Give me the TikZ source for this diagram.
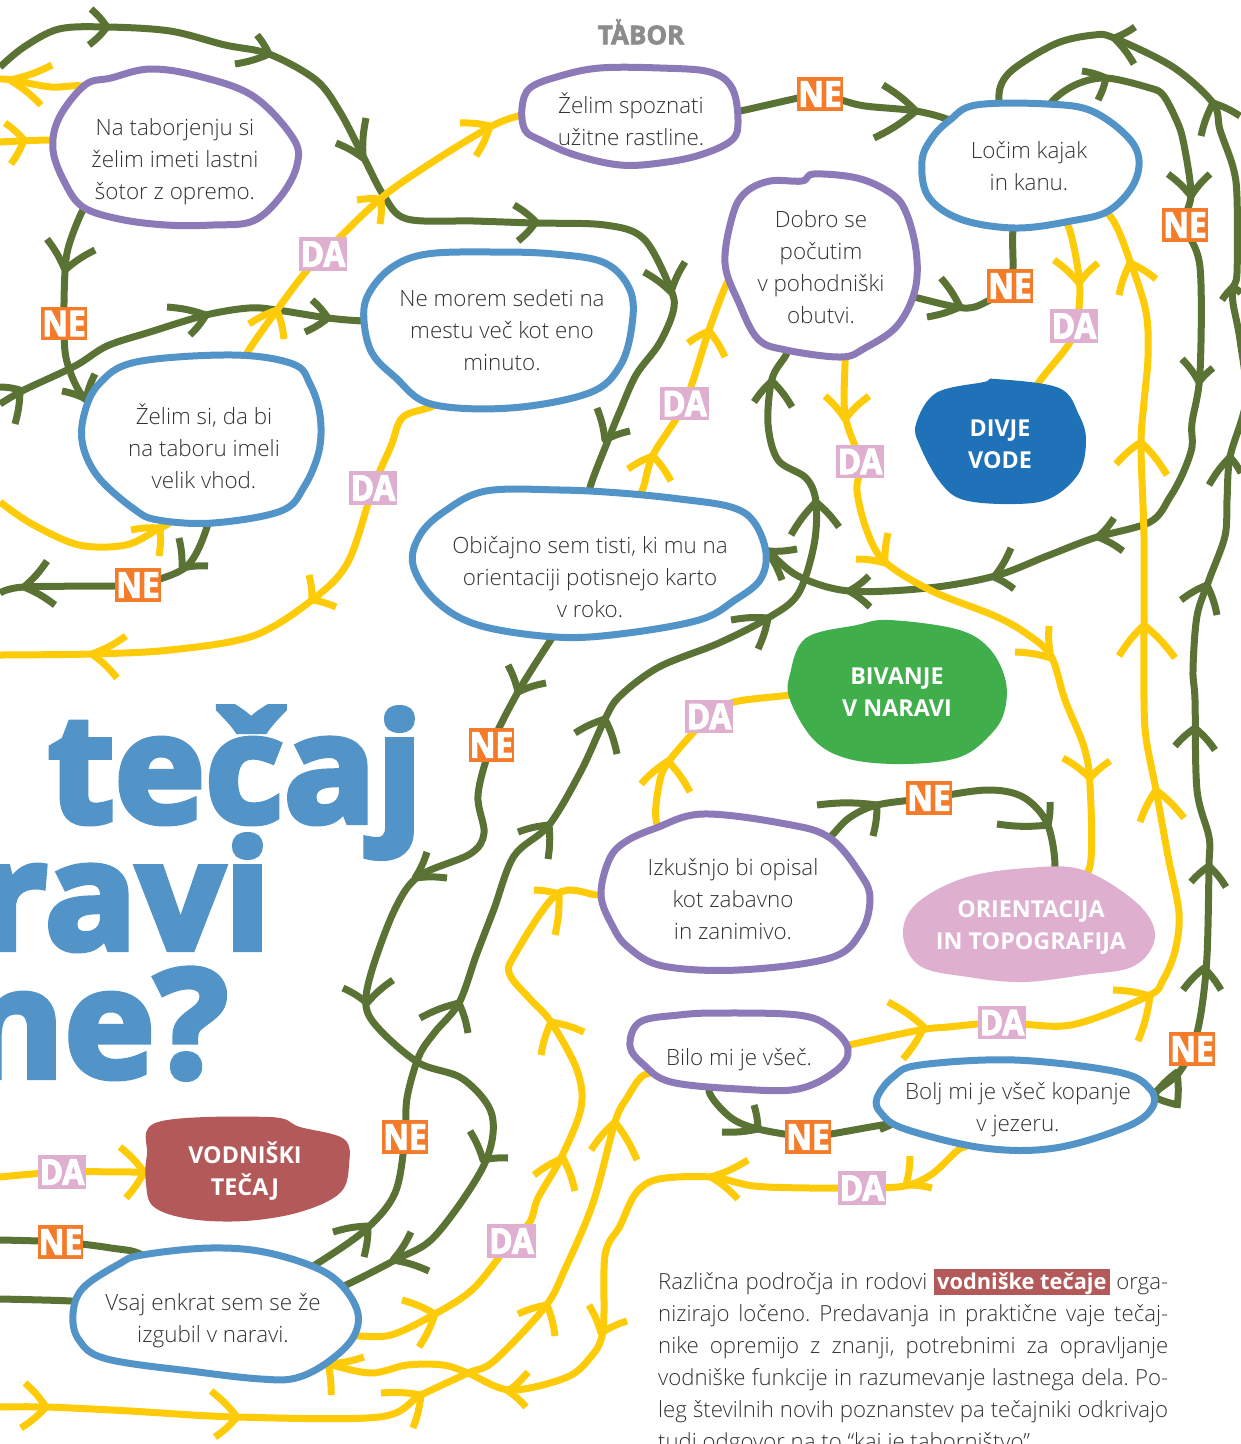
\documentclass[tikz,border=0pt]{standalone}
\usepackage{fontspec}
\usepackage{xcolor}
\setmainfont{Open Sans}[UprightFont=* Light,BoldFont=Open Sans Bold]
\newfontfamily\titlefont{Open Sans Bold}[FakeBold=4,FakeStretch=1.02]
\newfontfamily\heavyfont{Open Sans Bold}[FakeBold=3,FakeStretch=.9]
\newfontfamily\logofont{Open Sans Bold}[FakeBold=2.5]
\newfontfamily\boldfont{Open Sans Bold}
\usetikzlibrary{shapes.geometric}
\definecolor{cgreen}{HTML}{5A7335}
\definecolor{cyellow}{HTML}{FECB08}
\definecolor{cblue}{HTML}{5394C8}
\definecolor{cpurple}{HTML}{8C7AB8}
\definecolor{cdeep}{HTML}{1F71B8}
\definecolor{cgrass}{HTML}{3FAE4B}
\definecolor{cbrick}{HTML}{B35959}
\definecolor{cpink}{HTML}{DFAFD0}
\definecolor{corange}{HTML}{F47B2A}
\definecolor{ctext}{HTML}{333333}
\definecolor{clogo}{HTML}{8C8C8E}
\setlength{\fboxsep}{0pt}
\pgfdeclarelayer{lines}
\pgfdeclarelayer{blobs}
\pgfsetlayers{lines,blobs,main}
\tikzset{
  qtext/.style={shape=ellipse,inner sep=0pt,align=center,text=ctext,font=\fontsize{22.4}{32}\selectfont},
  rtext/.style={shape=ellipse,inner sep=0pt,align=center,text=white,font=\boldfont\fontsize{23.3}{32}\selectfont},
  dalabel/.style={fill=cpink,minimum width=48.5pt,minimum height=33.5pt,inner sep=0pt,text=white,font=\heavyfont\fontsize{35}{35}\selectfont},
  nelabel/.style={fill=corange,minimum width=45.5pt,minimum height=33.5pt,inner sep=0pt,text=white,font=\heavyfont\fontsize{35}{35}\selectfont},
  gline/.style={draw=cgreen,line width=7pt,line join=round},
  yline/.style={draw=cyellow,line width=7pt,line join=round},
  bline/.style={draw=cblue,fill=white,line width=7pt,line join=round},
  pline/.style={draw=cpurple,fill=white,line width=7pt,line join=round},
  titletext/.style={inner sep=0pt,anchor=base east,text=cblue,font=\titlefont\fontsize{150}{150}\selectfont},
  para/.style={inner sep=0pt,anchor=north west,align=left,text=ctext,font=\frenchspacing\fontsize{22.2}{32}\selectfont}
}
\newcommand{\conn}[2]{\draw[#1] plot[smooth,tension=.55] coordinates {#2};}
\newcommand{\ah}[4]{\draw[#1] #3 to[bend left=7] #2 to[bend left=7] #4;}
\newcommand{\blob}[2]{\draw[#1] plot[smooth cycle,tension=.6] coordinates {#2};}
\newcommand{\fullline}[1]{\makebox[510pt][s]{#1}}
\begin{document}
\begin{tikzpicture}[x=1pt,y=-1pt]
\useasboundingbox (0,0) rectangle (1241,1444);
% question nodes
\node[qtext] (tab) at (175,162) {Na taborjenju si\\želim imeti lastni\\šotor z opremo.};
\node[qtext] (rast) at (631,119) {Želim spoznati\\užitne rastline.};
\node[qtext] (obut) at (821,267) {Dobro se\\počutim\\v pohodniški\\obutvi.};
\node[qtext] (kajak) at (1029,166) {Ločim kajak\\in kanu.};
\node[qtext] (sedeti) at (502,330) {Ne morem sedeti na\\mestu več kot eno\\minuto.};
\node[qtext] (vhod) at (204,446) {Želim si, da bi\\na taboru imeli\\velik vhod.};
\node[qtext] (karta) at (590,577) {Običajno sem tisti, ki mu na\\orientaciji potisnejo karto\\v roko.};
\node[qtext] (zabava) at (733,899) {Izkušnjo bi opisal\\kot zabavno\\in zanimivo.};
\node[qtext] (bilo) at (739,1060) {Bilo mi je všeč.};
\node[qtext] (jezero) at (1018,1110) {Bolj mi je všeč kopanje\\v jezeru.};
\node[qtext] (izgubil) at (213,1321) {Vsaj enkrat sem se že\\izgubil v naravi.};
% result nodes
\node[rtext] (divje) at (1000,444) {DIVJE\\VODE};
\node[rtext] (bivanje) at (897,692) {BIVANJE\\V NARAVI};
\node[rtext] (vodn) at (245,1171) {VODNIŠKI\\TEČAJ};
\node[rtext] (orient) at (1031,927) {ORIENTACIJA\\IN TOPOGRAFIJA};
% labels
\node[dalabel] (da1) at (323,254) {DA};
\node[dalabel] (da2) at (373,488) {DA};
\node[dalabel] (da3) at (684.5,403.5) {DA};
\node[dalabel] (da4) at (860,461.5) {DA};
\node[dalabel] (da5) at (1074,326) {DA};
\node[dalabel] (da6) at (709,716.5) {DA};
\node[dalabel] (da7) at (1002,1022.5) {DA};
\node[dalabel] (da8) at (862,1188) {DA};
\node[dalabel] (da9) at (62,1172) {DA};
\node[dalabel] (da10) at (511.5,1241) {DA};
\node[nelabel] (ne1) at (64,323.5) {NE};
\node[nelabel] (ne2) at (138,585) {NE};
\node[nelabel] (ne3) at (820,94) {NE};
\node[nelabel] (ne4) at (1010,286) {NE};
\node[nelabel] (ne5) at (1185,225) {NE};
\node[nelabel] (ne6) at (491.5,745) {NE};
\node[nelabel] (ne7) at (929,798) {NE};
\node[nelabel] (ne8) at (405,1137) {NE};
\node[nelabel] (ne9) at (60.5,1242) {NE};
\node[nelabel] (ne10) at (808,1137) {NE};
\node[nelabel] (ne11) at (1192,1049) {NE};
% title
\node[titletext] (t1) at (423,822) {tečaj};
\node[titletext] (t2) at (271,949) {ravi};
\node[titletext] (t3) at (228,1077) {ne?};
% logo
\node[inner sep=0pt,text=clogo,font=\logofont\fontsize{26}{26}\selectfont] (logo) at (641,35) {TABOR};
\draw[clogo,line width=1.8pt] (616.5,19) -- (620.5,27) (620.5,19) -- (616.5,27);
% paragraph
\node[para] (par) at (658,1269) {\fullline{Različna področja in rodovi \colorbox{cbrick}{\hspace{3pt}\rule[-6pt]{0pt}{26pt}\color{white}\boldfont\fontsize{21.8}{24}\selectfont vodniške tečaje\hspace{3pt}} orga-}\\
\fullline{nizirajo ločeno. Predavanja in praktične vaje tečaj-}\\
\fullline{nike opremijo z znanji, potrebnimi za opravljanje}\\
\fullline{vodniške funkcije in razumevanje lastnega dela. Po-}\\
\fullline{leg številnih novih poznanstev pa tečajniki odkrivajo}\\
tudi odgovor na to “kaj je taborništvo”.};
\begin{pgfonlayer}{blobs}
\blob{pline}{(85,85)(111,78)(150,69)(198,76)(253,96)(293,138)(297,165)(281,196)(253,221)(213,225)(166,225)(119,219)(83,207)(65,183)(53,150)(59,118)}
\blob{pline}{(522,108)(530,88)(560,76)(600,68)(660,68)(710,72)(732,88)(738,120)(732,140)(700,155)(660,163)(620,165)(575,155)(540,140)(525,130)}
\blob{bline}{(976,105)(1047,104)(1094,112)(1134,145)(1136,179)(1110,210)(1071,221)(1015,228)(960,219)(928,196)(922,161)(932,138)(950,120)}
\blob{bline}{(427,254)(494,252)(554,254)(605,263)(630,290)(632,325)(620,366)(589,393)(510,408)(431,404)(395,377)(372,353)(364,321)(368,295)(391,268)}
\blob{bline}{(136,362)(233,355)(293,364)(310,384)(320,415)(319,451)(304,487)(281,511)(213,523)(158,520)(134,509)(99,478)(83,446)(84,415)(99,384)}
\blob{bline}{(486,491)(560,490)(620,493)(680,499)(731,507)(754,522)(766,553)(760,580)(735,600)(699,620)(620,634)(555,637)(478,625)(435,600)(413,565)(420,535)(445,511)}
\blob{pline}{(770,181)(802,181)(814,174)(857,178)(889,192)(905,210)(916,250)(915,290)(897,326)(865,348)(841,357)(786,350)(758,339)(739,303)(725,263)(733,214)(746,192)}
\blob{pline}{(656,828)(703,814)(786,824)(830,838)(861,875)(870,899)(861,932)(830,958)(739,970)(663,966)(628,947)(612,925)(601,895)(609,860)(625,842)}
\blob{pline}{(640,1022)(679,1015)(719,1013)(798,1015)(830,1027)(848,1049)(837,1070)(798,1089)(739,1089)(671,1082)(644,1065)(630,1046)}
\blob{bline}{(920,1065)(1015,1060)(1118,1072)(1150,1089)(1152,1108)(1126,1127)(1055,1148)(984,1148)(905,1129)(881,1113)(877,1098)(893,1077)}
\blob{bline}{(142,1255)(210,1248)(269,1253)(328,1274)(356,1307)(354,1336)(328,1362)(296,1378)(261,1379)(198,1372)(107,1359)(79,1340)(73,1314)(83,1288)(119,1264)}
\fill[cdeep] plot[smooth cycle,tension=.6] coordinates {(936,393)(984,382)(996,379)(1059,388)(1079,415)(1086,440)(1079,473)(1051,498)(1015,504)(964,500)(940,482)(920,446)(916,424)};
\fill[cgrass] plot[smooth cycle,tension=.6] coordinates {(806,638)(857,625)(889,620)(956,629)(988,647)(1005,678)(1005,709)(992,733)(960,757)(905,764)(849,759)(814,740)(790,700)(790,674)};
\fill[cbrick] plot[smooth cycle,tension=.6] coordinates {(158,1122)(269,1117)(300,1127)(344,1139)(349,1165)(340,1193)(300,1212)(245,1221)(190,1219)(154,1207)(146,1184)(147,1155)};
\fill[cpink] plot[smooth cycle,tension=.6] coordinates {(964,878)(1027,868)(1083,870)(1138,904)(1155,937)(1134,966)(1083,975)(1023,982)(968,977)(920,966)(903,935)(916,904)};
\end{pgfonlayer}
\begin{pgfonlayer}{lines}
% green: top-left to karta
\conn{gline}{(0,67)(24,47)(59,29)(107,27)(170,31)(225,45)(269,54)(316,80)(340,112)(364,158)(384,196)(407,219)(474,221)(534,223)(605,225)(644,239)(671,290)(673,312)(659,344)(636,375)(620,411)(611,433)(589,491)(karta.90)}
\ah{gline}{(107,27)}{(91,9)}{(89,45)}
\ah{gline}{(269,54)}{(257,35)}{(235,64)}
\ah{gline}{(363,158)}{(336,143)}{(366,118)}
\ah{gline}{(536,222)}{(514,205)}{(518,241)}
\ah{gline}{(671,292)}{(644,272)}{(685,262)}
\ah{gline}{(605,440)}{(597,408)}{(630,431)}
% green tab to vhod
\conn{gline}{(tab.208)(83,210)(69,245)(65,272)(ne1)(67,362)(85,399)(vhod.158)}
\ah{gline}{(65,270)}{(47,239)}{(95,250)}
\ah{gline}{(86,399)}{(62,391)}{(95,374)}
% green sedeti to left
\conn{gline}{(sedeti.176)(362,321)(328,318)(277,310)(249,308)(206,315)(150,332)(107,346)(75,366)(24,390)(0,404)}
\ah{gline}{(328,318)}{(312,300)}{(305,332)}
\ah{gline}{(206,315)}{(167,307)}{(190,335)}
\ah{gline}{(20,390)}{(0,387)}{(15,424)}
% green vhod to left via ne2
\conn{gline}{(vhod.272)(207,527)(186,567)(ne2)(115,586)(24,587)(0,593)}
\ah{gline}{(182,568)}{(179,538)}{(208,566)}
\ah{gline}{(24,587)}{(47,561)}{(55,605)}
% yellow vhod to rast
\conn{yline}{(vhod.66)(247,353)(277,310)(304,274)(da1)(380,199)(431,163)(490,127)(518,116)(rast.178)}
\ah{yline}{(277,310)}{(249,324)}{(284,339)}
\ah{yline}{(381,199)}{(357,200)}{(380,224)}
\ah{yline}{(490,126)}{(460,123)}{(476,156)}
% yellow sedeti to bottom-left
\conn{yline}{(sedeti.228)(435,405)(403,417)(391,446)(da2)(348,562)(312,600)(253,636)(170,650)(91,654)(0,655)}
\ah{yline}{(312,600)}{(309,575)}{(336,607)}
\ah{yline}{(92,654)}{(126,636)}{(117,678)}
% yellow from left into vhod
\conn{yline}{(0,502)(32,524)(79,545)(126,545)(158,529)(170,522)(vhod.245)}
\ah{yline}{(160,528)}{(131,530)}{(159,556)}
% yellow tab out and in
\conn{yline}{(tab.140)(87,87)(51,87)(12,80)(0,79)}
\ah{yline}{(10,80)}{(52,65)}{(41,105)}
\conn{yline}{(0,142)(49,140)(tab.170)}
\ah{yline}{(24,140)}{(5,123)}{(11,164)}
% green rast to kajak
\conn{gline}{(rast.5)(740,111)(ne3)(841,100)(865,106)(916,111)(952,121)(kajak.150)}
\ah{gline}{(916,111)}{(883,85)}{(874,138)}
% green outer loop
\conn{gline}{(jezero.2)(1154,1095)(1177,1075)(ne11)(1201,1013)(1207,956)(1209,866)(1209,837)(1197,790)(1195,700)(1193,670)(1197,616)(1209,580)(1225,536)(1227,500)(1230,457)(1246,400)(1240,340)(1233,303)(1233,287)(1237,273)(1237,197)(1233,167)(1220,130)(1213,103)(1173,67)(1114,38)(1094,35)(1055,44)(1009,73)(999,100)(kajak.114)}
\ah{gline}{(1177,1072)}{(1154,1095)}{(1177,1108)}
\ah{gline}{(1204,968)}{(1183,990)}{(1221,990)}
\ah{gline}{(1209,866)}{(1191,882)}{(1226,887)}
\ah{gline}{(1195,728)}{(1175,746)}{(1215,750)}
\ah{gline}{(1207,585)}{(1181,600)}{(1217,615)}
\ah{gline}{(1230,457)}{(1209,485)}{(1241,473)}
\ah{gline}{(1233,287)}{(1222,300)}{(1241,293)}
\ah{gline}{(1213,103)}{(1201,136)}{(1240,116)}
\ah{gline}{(1114,38)}{(1135,27)}{(1134,64)}
% green kajak through ne5 to karta
\conn{gline}{(kajak.71)(1051,103)(1075,85)(1106,78)(1150,88)(1163,95)(1175,117)(1183,140)(1191,193)(ne5)(1200,267)(1200,373)(1192,423)(1192,447)(1183,473)(1170,497)(1150,522)(1094,538)(1047,556)(995,576)(928,588)(849,591)(798,576)(768,551)(karta.8)}
\ah{gline}{(1106,78)}{(1082,71)}{(1098,100)}
\ah{gline}{(1191,196)}{(1168,174)}{(1210,174)}
\ah{gline}{(1199,382)}{(1182,359)}{(1213,368)}
\ah{gline}{(1098,537)}{(1114,518)}{(1123,551)}
\ah{gline}{(994,577)}{(1011,548)}{(1014,589)}
\ah{gline}{(849,591)}{(869,576)}{(870,607)}
\ah{gline}{(767,551)}{(797,549)}{(782,580)}
% green kajak via ne4 to obut
\conn{gline}{(kajak.256)(1013,230)(1013,268)(ne4)(988,301)(964,308)(914,297)(obut.342)}
\ah{gline}{(960,307)}{(941,278)}{(927,317)}
% yellow kajak to divje
\conn{yline}{(kajak.303)(1069,228)(1079,277)(1079,308)(da5)(1069,344)(1039,382)(divje.57)}
\ah{yline}{(1079,283)}{(1054,260)}{(1098,263)}
% yellow bilo to kajak, long
\conn{yline}{(bilo.6)(849,1045)(920,1030)(948,1027)(da7)(1071,1025)(1148,996)(1163,980)(1175,951)(1179,913)(1168,856)(1156,790)(1146,738)(1144,700)(1144,625)(1144,536)(1141,446)(1144,402)(1148,357)(1146,312)(1130,261)(1110,216)(kajak.328)}
\ah{yline}{(924,1027)}{(888,1002)}{(903,1059)}
\ah{yline}{(1150,996)}{(1113,990)}{(1138,1041)}
\ah{yline}{(1156,790)}{(1140,822)}{(1184,818)}
\ah{yline}{(1144,625)}{(1119,656)}{(1175,658)}
\ah{yline}{(1141,442)}{(1116,464)}{(1167,475)}
\ah{yline}{(1130,263)}{(1119,295)}{(1156,279)}
% yellow obut to orient
\conn{yline}{(obut.285)(845,357)(845,415)(da4)(857,491)(867,531)(885,562)(932,591)(995,616)(1027,634)(1051,656)(1065,700)(1084,747)(1090,785)(1090,866)(orient.45)}
\ah{yline}{(845,419)}{(825,396)}{(869,396)}
\ah{yline}{(885,563)}{(856,559)}{(888,533)}
\ah{yline}{(1051,658)}{(1015,652)}{(1049,626)}
\ah{yline}{(1090,778)}{(1063,758)}{(1110,761)}
% yellow karta to obut
\conn{yline}{(karta.59)(642,491)(653,455)(da3)(709,330)(727,283)(obut.190)}
\ah{yline}{(653,456)}{(628,469)}{(671,481)}
\ah{yline}{(709,331)}{(688,343)}{(725,357)}
% green karta down to izgubil
\conn{gline}{(karta.238)(550,641)(518,692)(ne6)(478,795)(484,833)(470,854)(419,876)(395,909)(372,970)(366,1006)(380,1030)(419,1063)(463,1079)(492,1115)(484,1165)(435,1236)(395,1260)(344,1286)(izgubil.14)}
\ah{gline}{(518,692)}{(508,665)}{(546,683)}
\ah{gline}{(415,878)}{(427,852)}{(447,878)}
\ah{gline}{(367,1003)}{(343,988)}{(393,980)}
\ah{gline}{(483,1160)}{(470,1131)}{(508,1158)}
\ah{gline}{(393,1260)}{(411,1232)}{(429,1271)}
% green izgubil up to obut
\conn{gline}{(izgubil.27)(312,1267)(364,1231)(395,1193)(ne8)(407,1098)(419,1056)(435,1032)(459,1003)(476,956)(494,909)(514,856)(549,825)(581,771)(605,719)(620,696)(659,667)(719,643)(768,618)(798,594)(814,545)(816,502)(806,478)(778,460)(768,424)(772,379)(786,355)(obut.248)}
\ah{gline}{(368,1226)}{(333,1232)}{(364,1257)}
\ah{gline}{(459,1003)}{(420,1018)}{(468,1033)}
\ah{gline}{(549,825)}{(518,832)}{(548,859)}
\ah{gline}{(605,719)}{(575,733)}{(617,754)}
\ah{gline}{(768,618)}{(731,620)}{(758,649)}
\ah{gline}{(816,502)}{(791,535)}{(839,527)}
\ah{gline}{(772,381)}{(754,402)}{(792,407)}
% green left into izgubil
\conn{gline}{(0,1240)(ne9)(111,1248)(142,1255)(izgubil.138)}
\conn{gline}{(0,1299)(71,1301)(izgubil.173)}
% yellow da9 to vodn
\conn{yline}{(0,1177)(da9)(144,1172)(vodn.180)}
\ah{yline}{(144,1172)}{(120,1147)}{(126,1198)}
% yellow izgubil to zabava
\conn{yline}{(izgubil.353)(356,1336)(391,1335)(435,1314)(474,1288)(da10)(530,1222)(538,1198)(561,1158)(581,1108)(577,1070)(551,1022)(530,999)(510,975)(514,956)(557,894)(597,895)(zabava.178)}
\ah{yline}{(435,1314)}{(402,1300)}{(419,1347)}
\ah{yline}{(563,1158)}{(534,1175)}{(575,1191)}
\ah{yline}{(551,1022)}{(541,1055)}{(584,1032)}
\ah{yline}{(559,894)}{(534,890)}{(555,935)}
% yellow bottom to bilo
\conn{yline}{(0,1407)(47,1407)(130,1411)(237,1417)(379,1417)(421,1395)(468,1373)(494,1361)(545,1307)(565,1269)(593,1203)(615,1122)(627,1098)(644,1075)(bilo.190)}
\ah{yline}{(46,1407)}{(25,1383)}{(21,1428)}
\ah{yline}{(237,1417)}{(211,1391)}{(215,1437)}
\ah{yline}{(421,1395)}{(381,1393)}{(413,1428)}
\ah{yline}{(547,1305)}{(518,1314)}{(555,1336)}
\ah{yline}{(615,1122)}{(591,1150)}{(637,1160)}
% yellow jezero via da8 to izgubil
\conn{yline}{(jezero.216)(958,1150)(932,1174)(905,1186)(da8)(810,1188)(754,1186)(711,1177)(659,1179)(636,1193)(620,1226)(605,1255)(603,1331)(589,1359)(565,1378)(510,1390)(468,1373)(443,1365)(407,1365)(371,1373)(328,1364)(izgubil.338)}
\ah{yline}{(906,1185)}{(910,1156)}{(932,1188)}
\ah{yline}{(711,1177)}{(748,1160)}{(738,1199)}
\ah{yline}{(601,1333)}{(589,1305)}{(627,1321)}
\ah{yline}{(508,1391)}{(528,1372)}{(526,1407)}
\ah{yline}{(328,1364)}{(364,1357)}{(331,1395)}
% yellow zabava to bivanje
\conn{yline}{(zabava.135)(657,824)(659,785)(669,761)(da6)(734,702)(790,695)(bivanje.178)}
\ah{yline}{(668,761)}{(641,784)}{(690,792)}
% green zabava to orient
\conn{gline}{(zabava.32)(829,838)(849,818)(877,805)(ne7)(987,790)(1023,797)(1047,823)(1055,866)(orient.68)}
\ah{gline}{(877,805)}{(817,805)}{(873,836)}
\ah{gline}{(1048,825)}{(1050,802)}{(997,824)}
% green bilo to jezero
\conn{gline}{(bilo.228)(709,1091)(730,1117)(758,1129)(ne10)(831,1134)(889,1124)(jezero.188)}
\ah{gline}{(758,1129)}{(754,1105)}{(722,1132)}
\end{pgfonlayer}
\end{tikzpicture}
\end{document}
